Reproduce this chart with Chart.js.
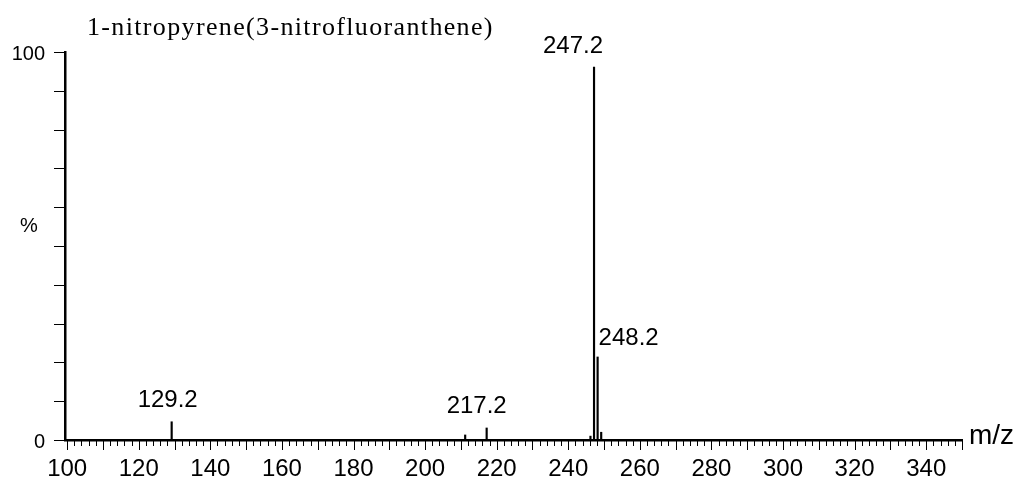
<!DOCTYPE html>
<html>
<head>
<meta charset="utf-8">
<script src="https://cdn.jsdelivr.net/npm/chart.js@4.4.1/dist/chart.umd.min.js"></script>
<style>
  html, body { margin: 0; padding: 0; background: #fff; }
  #wrap { width: 1025px; height: 482px; }
</style>
</head>
<body>
<div id="wrap"><canvas id="spectrum"></canvas></div>
<script>
// spectrum data
var titleText = "1-nitropyrene(3-nitrofluoranthene)";
var peakMz = [129.2, 211.2, 217.2, 246.2, 247.2, 248.2, 249.2];
var peakIntensity = [4.7, 1.3, 3.1, 1.0, 96.1, 21.4, 2.0];
var labeledMz = [129.2, 217.2, 247.2, 248.2];
var xTickLabels = [100, 120, 140, 160, 180, 200, 220, 240, 260, 280, 300, 320, 340];
var yTickLabels = [0, 100];

// label placement (pixels), one per labeled peak
var labelStyle = [
  { dx: -4, dy: -15, align: 'center' },
  { dx: -10, dy: -15, align: 'center' },
  { dx: -21, dy: -14, align: 'center' },
  { dx: 1, dy: -12, align: 'left' }
];

var points = [];
for (var i in peakMz) {
  points.push({ x: peakMz[i], y: peakIntensity[i] });
}

var spectrumDecor = {
  id: 'spectrumDecor',
  afterDraw: function(chart) {
    var ctx = chart.ctx;
    var xs = chart.scales.x;
    var ys = chart.scales.y;
    var area = chart.chartArea;
    ctx.save();
    ctx.strokeStyle = '#000';
    ctx.fillStyle = '#000';
    ctx.lineWidth = 1;

    // x minor / major ticks, hanging below the axis
    ctx.beginPath();
    for (var v = 100; v <= 350; v += 2) {
      var px = Math.round(xs.getPixelForValue(v)) + 0.5;
      var len = (v % 10 === 0) ? 10 : 6;
      ctx.moveTo(px, area.bottom);
      ctx.lineTo(px, area.bottom + len);
    }
    // y ticks, pointing left
    for (var w = 0; w <= 100; w += 10) {
      var py = Math.round(ys.getPixelForValue(w)) + 0.5;
      ctx.moveTo(area.left - 11, py);
      ctx.lineTo(area.left, py);
    }
    ctx.stroke();

    // title
    ctx.font = '26px "Liberation Serif", "Times New Roman", serif';
    ctx.letterSpacing = '1.35px';
    ctx.textAlign = 'left';
    ctx.textBaseline = 'alphabetic';
    ctx.fillText(titleText, 87, 35);
    ctx.letterSpacing = '0px';

    // peak labels
    ctx.font = '24px "Liberation Sans", Arial, sans-serif';
    for (var k in labeledMz) {
      var mz = labeledMz[k];
      var idx = peakMz.indexOf(mz);
      var st = labelStyle[k];
      var lx = xs.getPixelForValue(mz) + st.dx;
      var ly = ys.getPixelForValue(peakIntensity[idx]) + st.dy;
      ctx.textAlign = st.align;
      ctx.fillText(mz.toFixed(1), lx, ly);
    }

    // axis names
    ctx.font = '20px "Liberation Sans", Arial, sans-serif';
    ctx.textAlign = 'center';
    ctx.textBaseline = 'middle';
    ctx.fillText('%', 29, ys.getPixelForValue(55));
    ctx.font = '28px "Liberation Sans", Arial, sans-serif';
    ctx.textAlign = 'left';
    ctx.fillText('m/z', 969, area.bottom - 4);
    ctx.restore();
  }
};

var ctx = document.getElementById('spectrum');

var spectrumChart = new Chart(ctx, {
  type: 'bar',
  data: {
    datasets: [
      {
        label: titleText,
        data: points,
        backgroundColor: '#000',
        borderWidth: 0,
        barThickness: 1.5
      }
    ]
  },
  options: {
    responsive: true,
    maintainAspectRatio: false,
    animation: false,
    layout: { padding: { left: 0, right: 63, top: 52, bottom: 0 } },
    plugins: {
      legend: { display: false },
      tooltip: { enabled: false }
    },
    scales: {
      x: {
        type: 'linear',
        offset: false,
        min: 99.4,
        max: 350,
        grid: { display: false, drawTicks: false, offset: false },
        border: { display: true, color: '#000', width: 2.5 },
        afterBuildTicks: function(scale) {
          scale.ticks = xTickLabels.map(function(v) { return { value: v }; });
        },
        afterFit: function(scale) { scale.height = 42; },
        ticks: {
          autoSkip: false,
          maxRotation: 0,
          padding: 15,
          color: '#000',
          font: { family: '"Liberation Sans", Arial, sans-serif', size: 24 }
        }
      },
      y: {
        type: 'linear',
        min: 0,
        max: 100,
        grid: { display: false, drawTicks: false },
        border: { display: true, color: '#000', width: 2.5 },
        afterBuildTicks: function(scale) {
          scale.ticks = yTickLabels.map(function(v) { return { value: v }; });
        },
        afterFit: function(scale) { scale.width = 65; },
        ticks: {
          padding: 20,
          labelOffset: 2,
          color: '#000',
          font: { family: '"Liberation Sans", Arial, sans-serif', size: 20 }
        }
      }
    }
  },
  plugins: [spectrumDecor]
});
</script>
</body>
</html>
